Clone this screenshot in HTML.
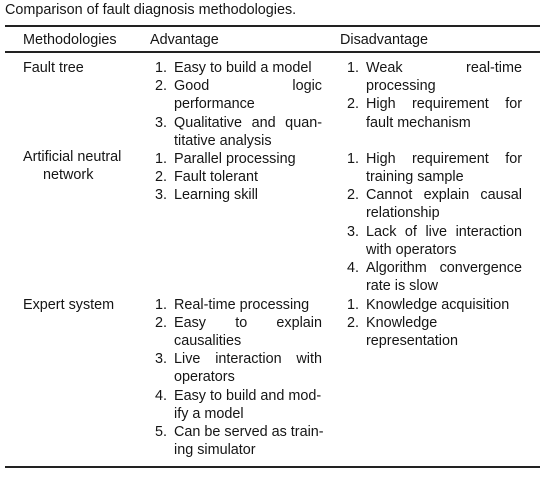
<!DOCTYPE html>
<html><head><meta charset="utf-8"><style>
html,body{margin:0;padding:0;background:#fff;}
body{width:546px;height:482px;position:relative;overflow:hidden;font-family:"Liberation Sans",sans-serif;font-size:14.4px;color:#151515;}
.l{position:absolute;height:18px;line-height:18px;white-space:nowrap;}
.j{text-align:justify;text-align-last:justify;white-space:normal;overflow:hidden;}
.r{position:absolute;left:5px;width:535px;background:#222;}
</style></head><body>
<div class="l" style="left:5px;top:1px;">Comparison of fault diagnosis methodologies.</div>
<div class="r" style="top:25px;height:2px"></div>
<div class="l" style="left:23px;top:31px;">Methodologies</div>
<div class="l" style="left:150px;top:31px;">Advantage</div>
<div class="l" style="left:340px;top:31px;">Disadvantage</div>
<div class="r" style="top:51px;height:1.5px"></div>
<div class="r" style="top:466px;height:2px"></div>

<div class="l" style="left:23px;top:59px;">Fault tree</div>
<div class="l" style="left:23px;top:148px;">Artificial neutral</div>
<div class="l" style="left:43px;top:166px;">network</div>
<div class="l" style="left:23px;top:296px;">Expert system</div>

<div class="l" style="left:155px;top:59px;">1.</div><div class="l" style="left:174px;top:59px;">Easy to build a model</div>
<div class="l" style="left:155px;top:77px;">2.</div><div class="l j" style="left:174px;width:148px;top:77px;">Good logic</div>
<div class="l" style="left:174px;top:95px;">performance</div>
<div class="l" style="left:155px;top:114px;">3.</div><div class="l j" style="left:174px;width:148px;top:114px;">Qualitative and quan-</div>
<div class="l" style="left:174px;top:132px;">titative analysis</div>
<div class="l" style="left:155px;top:150px;">1.</div><div class="l" style="left:174px;top:150px;">Parallel processing</div>
<div class="l" style="left:155px;top:168px;">2.</div><div class="l" style="left:174px;top:168px;">Fault tolerant</div>
<div class="l" style="left:155px;top:186px;">3.</div><div class="l" style="left:174px;top:186px;">Learning skill</div>
<div class="l" style="left:155px;top:296px;">1.</div><div class="l" style="left:174px;top:296px;">Real-time processing</div>
<div class="l" style="left:155px;top:314px;">2.</div><div class="l j" style="left:174px;width:148px;top:314px;">Easy to explain</div>
<div class="l" style="left:174px;top:332px;">causalities</div>
<div class="l" style="left:155px;top:350px;">3.</div><div class="l j" style="left:174px;width:148px;top:350px;">Live interaction with</div>
<div class="l" style="left:174px;top:368px;">operators</div>
<div class="l" style="left:155px;top:387px;">4.</div><div class="l" style="left:174px;top:387px;">Easy to build and mod-</div>
<div class="l" style="left:174px;top:405px;">ify a model</div>
<div class="l" style="left:155px;top:423px;">5.</div><div class="l" style="left:174px;top:423px;">Can be served as train-</div>
<div class="l" style="left:174px;top:441px;">ing simulator</div>

<div class="l" style="left:347px;top:59px;">1.</div><div class="l j" style="left:366px;width:156px;top:59px;">Weak real-time</div>
<div class="l" style="left:366px;top:77px;">processing</div>
<div class="l" style="left:347px;top:95px;">2.</div><div class="l j" style="left:366px;width:156px;top:95px;">High requirement for</div>
<div class="l" style="left:366px;top:114px;">fault mechanism</div>
<div class="l" style="left:347px;top:150px;">1.</div><div class="l j" style="left:366px;width:156px;top:150px;">High requirement for</div>
<div class="l" style="left:366px;top:168px;">training sample</div>
<div class="l" style="left:347px;top:186px;">2.</div><div class="l j" style="left:366px;width:156px;top:186px;">Cannot explain causal</div>
<div class="l" style="left:366px;top:204px;">relationship</div>
<div class="l" style="left:347px;top:223px;">3.</div><div class="l j" style="left:366px;width:156px;top:223px;">Lack of live interaction</div>
<div class="l" style="left:366px;top:241px;">with operators</div>
<div class="l" style="left:347px;top:259px;">4.</div><div class="l j" style="left:366px;width:156px;top:259px;">Algorithm convergence</div>
<div class="l" style="left:366px;top:277px;">rate is slow</div>
<div class="l" style="left:347px;top:296px;">1.</div><div class="l" style="left:366px;top:296px;">Knowledge acquisition</div>
<div class="l" style="left:347px;top:314px;">2.</div><div class="l" style="left:366px;top:314px;">Knowledge</div>
<div class="l" style="left:366px;top:332px;">representation</div>
</body></html>
